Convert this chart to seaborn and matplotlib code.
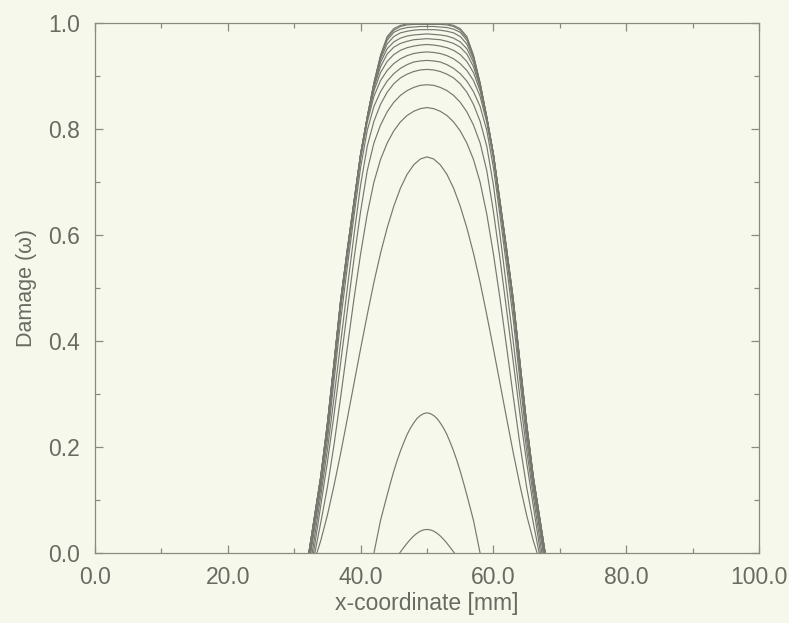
import numpy as np
import pandas as pd
import seaborn as sns
import matplotlib.pyplot as plt
from matplotlib.ticker import MultipleLocator, FormatStrFormatter

# damage profiles, symmetric about the notch centre
centre = 50.0

# offsets from the centre [mm] for the wide profiles
offset_mm = [0, 1, 2, 3, 4, 5, 6, 7, 8, 9, 10, 11, 12, 13, 14, 15, 16]

w_075 = [0.748, 0.744, 0.733, 0.715, 0.689, 0.655, 0.614, 0.566, 0.511, 0.450, 0.386, 0.320, 0.254, 0.189, 0.128, 0.072, 0.024]
w_084 = [0.841, 0.839, 0.834, 0.826, 0.814, 0.797, 0.774, 0.743, 0.700, 0.640, 0.565, 0.480, 0.388, 0.295, 0.205, 0.125, 0.058]
w_088 = [0.884, 0.883, 0.879, 0.873, 0.864, 0.851, 0.833, 0.808, 0.774, 0.722, 0.645, 0.555, 0.458, 0.360, 0.262, 0.172, 0.090]
w_091 = [0.913, 0.912, 0.909, 0.904, 0.897, 0.886, 0.870, 0.847, 0.815, 0.768, 0.695, 0.600, 0.500, 0.398, 0.294, 0.195, 0.108]
w_093 = [0.930, 0.929, 0.927, 0.922, 0.915, 0.905, 0.891, 0.871, 0.843, 0.798, 0.728, 0.636, 0.540, 0.440, 0.325, 0.214, 0.122]
w_095 = [0.946, 0.945, 0.943, 0.939, 0.933, 0.924, 0.911, 0.892, 0.862, 0.813, 0.744, 0.652, 0.558, 0.460, 0.342, 0.228, 0.132]
w_096 = [0.960, 0.959, 0.957, 0.954, 0.949, 0.941, 0.928, 0.907, 0.872, 0.819, 0.750, 0.658, 0.565, 0.469, 0.350, 0.236, 0.138]
w_097 = [0.971, 0.970, 0.969, 0.966, 0.962, 0.955, 0.942, 0.918, 0.878, 0.821, 0.752, 0.660, 0.568, 0.473, 0.354, 0.240, 0.141]
w_098 = [0.980, 0.979, 0.978, 0.976, 0.972, 0.965, 0.952, 0.926, 0.882, 0.822, 0.752, 0.661, 0.570, 0.475, 0.357, 0.242, 0.143]
w_099 = [0.988, 0.988, 0.987, 0.985, 0.982, 0.975, 0.961, 0.932, 0.884, 0.822, 0.753, 0.662, 0.571, 0.477, 0.359, 0.244, 0.144]
w_0994 = [0.994, 0.994, 0.993, 0.992, 0.989, 0.983, 0.968, 0.936, 0.886, 0.823, 0.753, 0.663, 0.572, 0.478, 0.360, 0.245, 0.145]
w_0998 = [0.998, 0.998, 0.998, 0.997, 0.994, 0.987, 0.972, 0.938, 0.887, 0.823, 0.753, 0.663, 0.573, 0.478, 0.360, 0.245, 0.145]
w_100 = [1.000, 1.000, 1.000, 0.999, 0.996, 0.990, 0.975, 0.940, 0.887, 0.823, 0.753, 0.664, 0.574, 0.478, 0.360, 0.245, 0.145]

# half-width where each wide profile reaches zero [mm]
base_mm = [16.6, 16.9, 17.1, 17.3, 17.5, 17.6, 17.7, 17.7, 17.8, 17.8, 17.8, 17.8, 17.8]

# the two early (small) profiles, finer steps
offset_small = [0, 0.5, 1, 1.5, 2, 2.5, 3, 3.5, 4]
w_0045 = [0.045, 0.0442, 0.0418, 0.0379, 0.0327, 0.0263, 0.019, 0.0109, 0.0026]
base_0045 = 4.15

offset_mid = [0, 0.5, 1, 1.5, 2, 2.5, 3, 3.5, 4, 4.5, 5, 5.5, 6, 6.5, 7, 7.5]
w_0265 = [0.265, 0.2635, 0.260, 0.2545, 0.246, 0.236, 0.224, 0.209, 0.193,
          0.175, 0.155, 0.133, 0.110, 0.086, 0.062, 0.031]
base_0265 = 8.0

wide = [w_075, w_084, w_088, w_091, w_093, w_095, w_096, w_097, w_098, w_099, w_0994, w_0998, w_100]


def profile(offs, vals, base):
    offs = list(offs) + [base]
    vals = list(vals) + [0.0]
    xl = [centre - d for d in offs[::-1]]
    xr = [centre + d for d in offs[1:]]
    return xl + xr, vals[::-1] + vals[1:]


rows = []
curves = [(offset_small, w_0045, base_0045), (offset_mid, w_0265, base_0265)]
curves += [(offset_mm, w, b) for w, b in zip(wide, base_mm)]
for k, (o, v, b) in enumerate(curves):
    xs, ys = profile(o, v, b)
    for i, (xx, yy) in enumerate(zip(xs, ys)):
        rows.append({'curve': k, 'order': i, 'x': xx, 'omega': yy})
df = pd.DataFrame(rows)

sns.set_style('ticks')
plt.rcParams['font.family'] = ['Liberation Sans', 'DejaVu Sans']

paper = '#f7f8ec'
grey = '#8a8a80'
txt = '#6a6a62'

fig = plt.figure(figsize=(7.89, 6.23), dpi=100, facecolor=paper)
ax = fig.add_axes([0.1204, 0.1119, 0.8416, 0.8507])
ax.set_facecolor(paper)

sns.lineplot(data=df, x='x', y='omega', units='curve', estimator=None, sort=False,
             color='#77776f', linewidth=0.85, ax=ax, legend=False)

ax.set_xlim(0, 100)
ax.set_ylim(0, 1)
ax.xaxis.set_major_locator(MultipleLocator(20))
ax.xaxis.set_minor_locator(MultipleLocator(10))
ax.yaxis.set_major_locator(MultipleLocator(0.2))
ax.yaxis.set_minor_locator(MultipleLocator(0.1))
ax.xaxis.set_major_formatter(FormatStrFormatter('%.1f'))
ax.yaxis.set_major_formatter(FormatStrFormatter('%.1f'))

ax.tick_params(which='both', direction='in', top=True, right=True, colors=grey,
               labelcolor=txt, width=0.9)
ax.tick_params(which='major', length=6, labelsize=16.5)
ax.tick_params(axis='x', which='major', pad=9)
ax.tick_params(axis='y', which='major', pad=11)
ax.tick_params(which='minor', length=3.5)
for s in ax.spines.values():
    s.set_color(grey)
    s.set_linewidth(0.9)

ax.set_xlabel('x-coordinate [mm]', fontsize=16.5, color=txt, labelpad=2)
ax.set_ylabel('Damage (ω)', fontsize=15.5, color=txt, labelpad=8)

plt.savefig('out.png', dpi=100, facecolor=paper)
